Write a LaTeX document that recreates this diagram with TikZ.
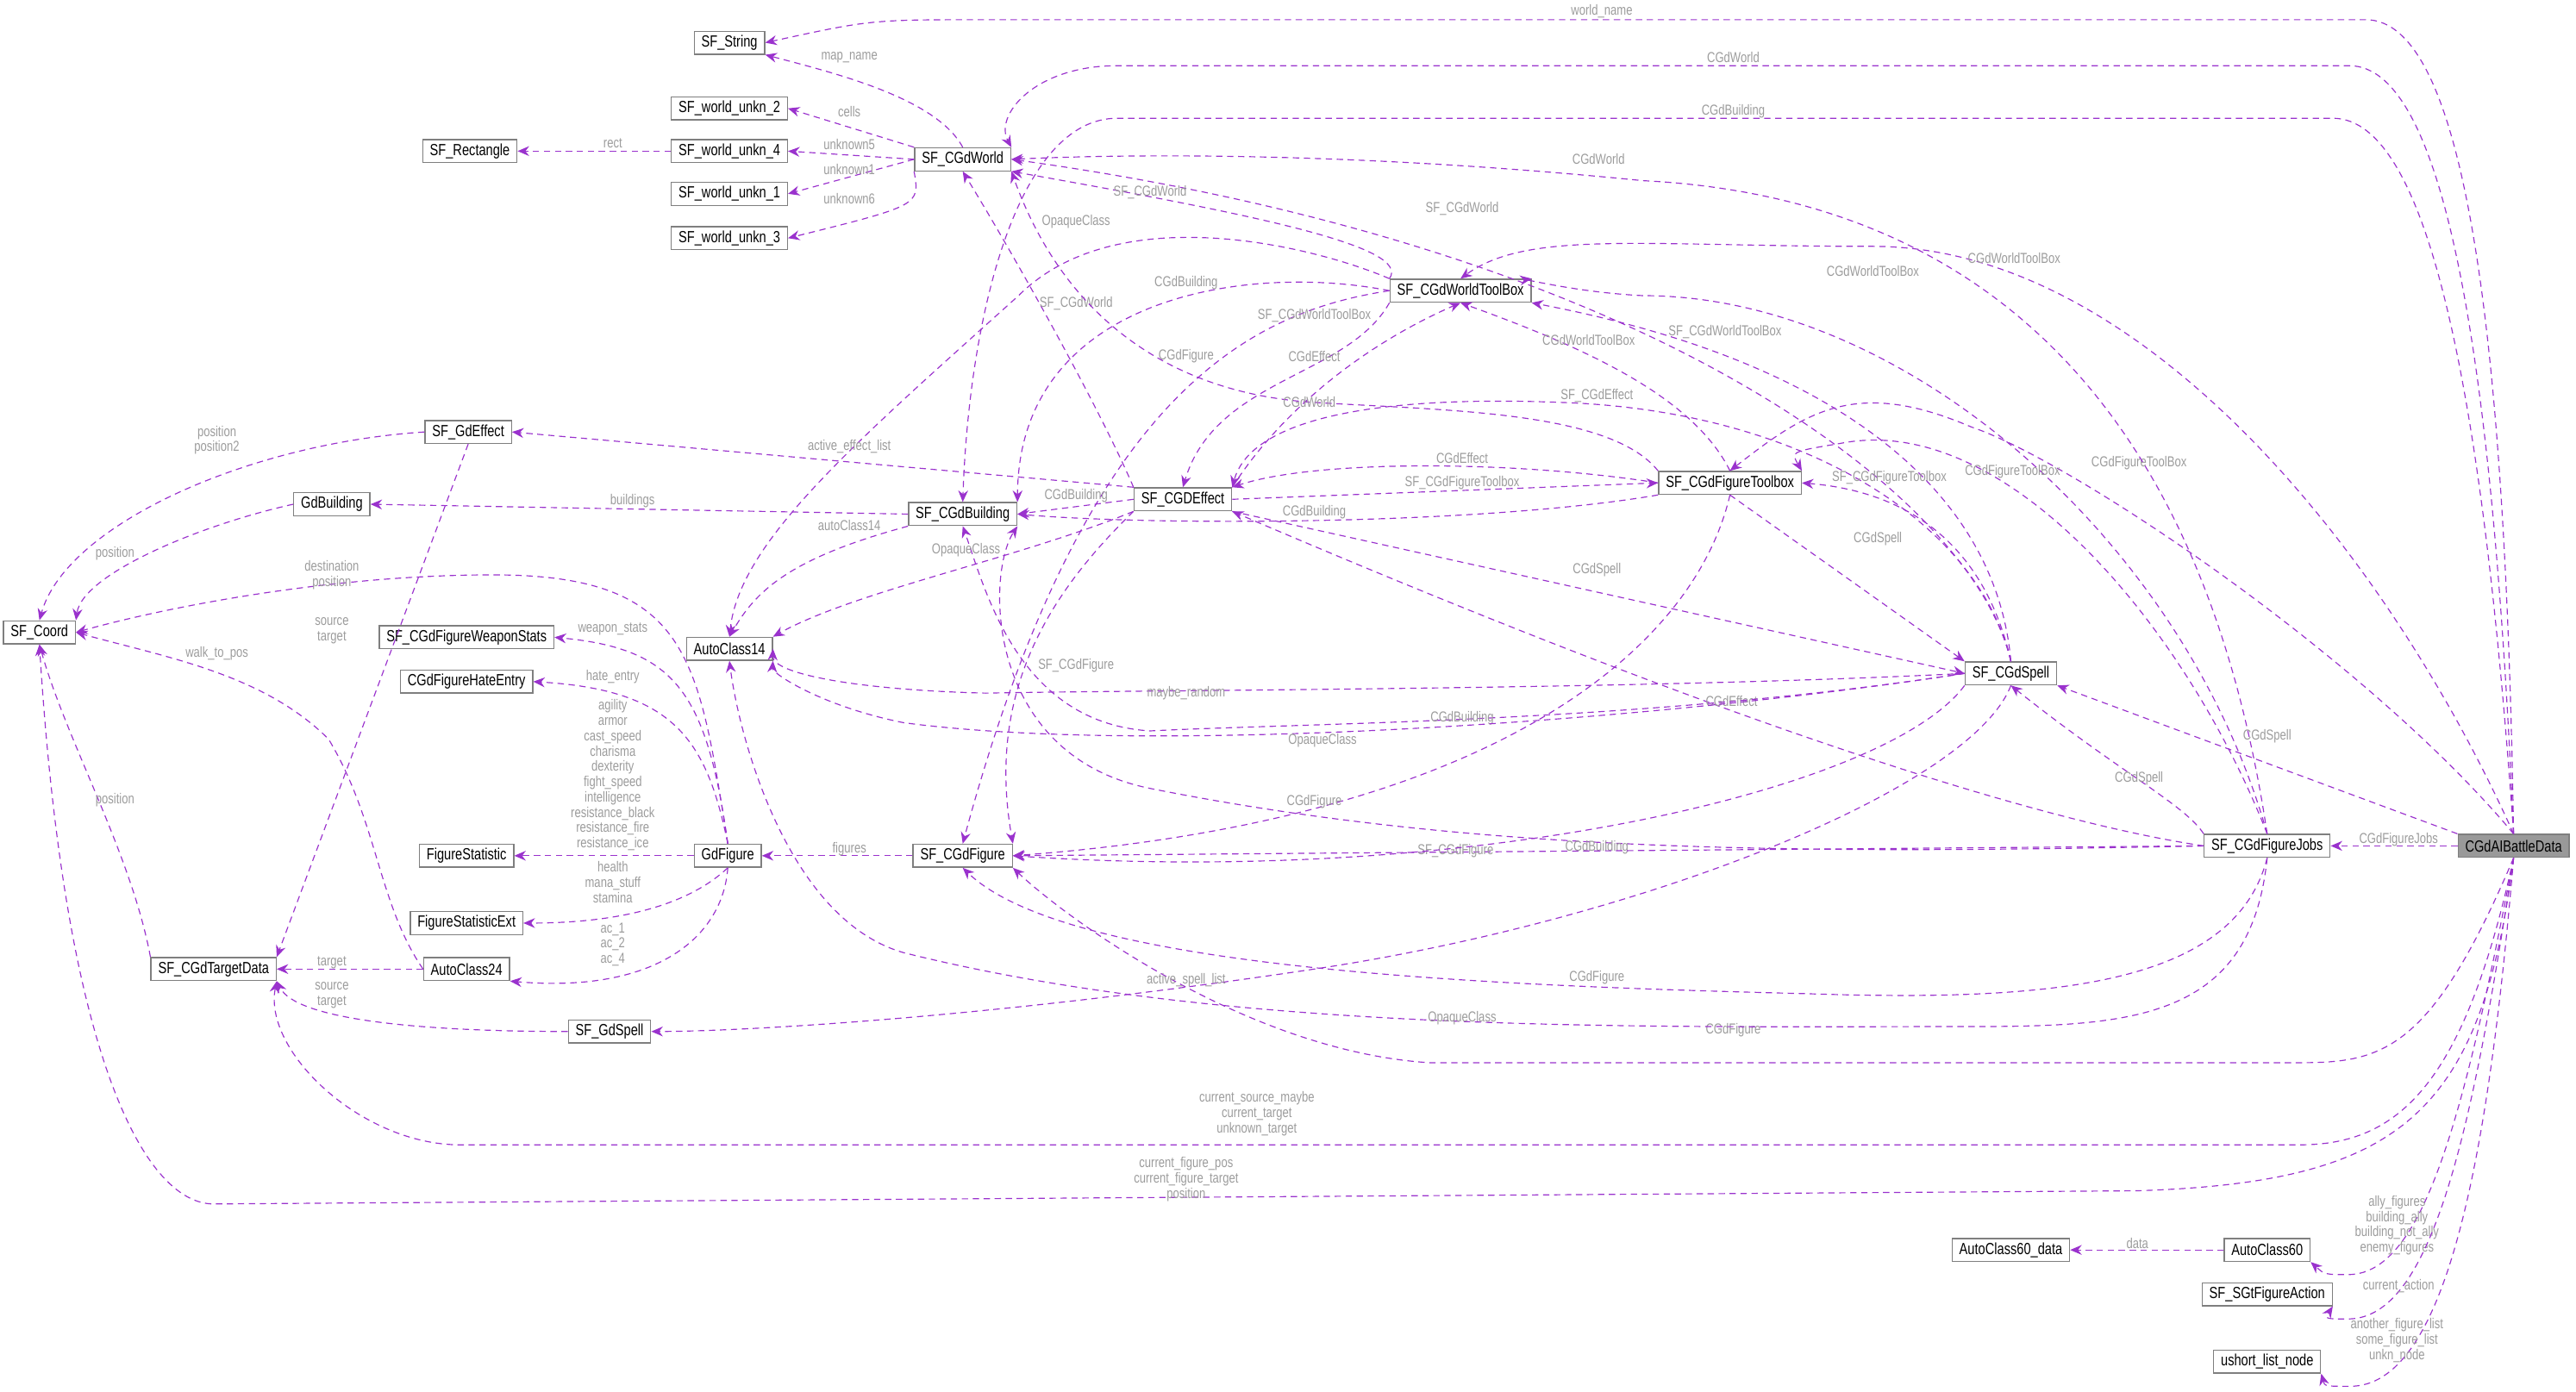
\documentclass[tikz,border=0pt]{standalone}
\usepackage{fontspec}
\setmainfont{Liberation Sans}[FakeStretch=0.78]
\usetikzlibrary{arrows.meta}

\definecolor{edgepurple}{HTML}{9A32CD}
\definecolor{lblgray}{HTML}{9C9C9C}
\definecolor{boxgray}{HTML}{7F7F7F}

\begin{document}
\begin{tikzpicture}[x=0.02cm,y=-0.02cm,
  cls/.style={draw=boxgray,fill=white,rectangle,inner xsep=2.5pt,inner ysep=0pt,minimum height=0.28cm,font=\fontsize{5.6}{6}\selectfont},
  edge/.style={draw=edgepurple,dashed,dash pattern=on 2.2pt off 1.6pt,line width=0.35pt,-{Stealth[length=4pt,width=3.4pt,fill=edgepurple]}},
  lbl/.style={text=lblgray,font=\fontsize{5}{5.3}\selectfont,align=center,inner sep=0pt}]
  \useasboundingbox (0,0) rectangle (1568,847);

  \node[cls] (str)   at (444,26)  {SF\_String};
  \node[cls] (wu2)   at (444,66)  {SF\_world\_unkn\_2};
  \node[cls] (rect)  at (286,92)  {SF\_Rectangle};
  \node[cls] (wu4)   at (444,92)  {SF\_world\_unkn\_4};
  \node[cls] (wu1)   at (444,118) {SF\_world\_unkn\_1};
  \node[cls] (wu3)   at (444,145) {SF\_world\_unkn\_3};
  \node[cls] (world) at (586,97)  {SF\_CGdWorld};
  \node[cls] (wtb)   at (889,177) {SF\_CGdWorldToolBox};
  \node[cls] (gdeff) at (285,263) {SF\_GdEffect};
  \node[cls] (gdbld) at (202,307) {GdBuilding};
  \node[cls] (bldg)  at (586,313) {SF\_CGdBuilding};
  \node[cls] (eff)   at (720,304) {SF\_CGDEffect};
  \node[cls] (ftb)   at (1053,294) {SF\_CGdFigureToolbox};
  \node[cls] (coord) at (24,385)  {SF\_Coord};
  \node[cls] (wstats) at (284,388) {SF\_CGdFigureWeaponStats};
  \node[cls] (ac14)  at (444,395) {AutoClass14};
  \node[cls] (hate)  at (284,415) {CGdFigureHateEntry};
  \node[cls] (spell) at (1224,410) {SF\_CGdSpell};
  \node[cls] (fstat) at (284,521) {FigureStatistic};
  \node[cls] (gdfig) at (443,521) {GdFigure};
  \node[cls] (fig)   at (586,521) {SF\_CGdFigure};
  \node[cls] (jobs)  at (1380,515) {SF\_CGdFigureJobs};
  \node[cls,fill=black!40] (battle) at (1530,515) {CGdAIBattleData};
  \node[cls] (fstatx) at (284,562) {FigureStatisticExt};
  \node[cls] (target) at (130,590) {SF\_CGdTargetData};
  \node[cls] (ac24)  at (284,590) {AutoClass24};
  \node[cls] (gdspell) at (371,628) {SF\_GdSpell};
  \node[cls] (ac60d) at (1224,761) {AutoClass60\_data};
  \node[cls] (ac60)  at (1380,761) {AutoClass60};
  \node[cls] (action) at (1380,788) {SF\_SGtFigureAction};
  \node[cls] (ushort) at (1380,829) {ushort\_list\_node};

  % SF_CGdWorld members
  \draw[edge] (world.north) .. controls (570,60) and (510,45) .. (str.south east);
  \node[lbl] at (517,35) {map\_name};
  \draw[edge] (world.north west) -- (wu2.east);
  \node[lbl] at (517,68) {cells};
  \draw[edge] (world.west) -- (wu4.east);
  \node[lbl] at (517,88) {unknown5};
  \draw[edge] (world.west) -- (wu1.east);
  \node[lbl] at (517,103) {unknown1};
  \draw[edge] (world.south west) .. controls (560,125) .. (wu3.east);
  \node[lbl] at (517,121) {unknown6};
  \draw[edge] (wu4) -- (rect);
  \node[lbl] at (373,87) {rect};

  % CGdAIBattleData, long loops
  \draw[edge] (battle.north) .. controls (1525,200) and (1500,12) .. (1440,12) -- (600,12) .. controls (530,12) .. (str.east);
  \node[lbl] at (975,7) {world\_name};
  \draw[edge] (battle.north) .. controls (1518,230) and (1490,40) .. (1430,40) -- (680,40) .. controls (630,40) and (605,70) .. (world.north east);
  \node[lbl] at (1055,35) {CGdWorld};
  \draw[edge] (battle.north) .. controls (1512,250) and (1480,72) .. (1420,72) -- (680,72) .. controls (620,72) and (590,190) .. (bldg.north);
  \node[lbl] at (1055,68) {CGdBuilding};
  \draw[edge] (battle.north) .. controls (1450,330) and (1300,150) .. (1140,150) .. controls (1000,150) and (930,140) .. (wtb.north);
  \node[lbl] at (1226,157) {CGdWorldToolBox};
  \draw[edge] (battle.north) .. controls (1440,400) and (1260,280) .. (1200,260) .. controls (1130,230) and (1100,250) .. (ftb.north);
  \node[lbl] at (1302,282) {CGdFigureToolBox};
  \draw[edge] (battle.north west) -- (spell.south east);
  \node[lbl] at (1380,448) {CGdSpell};
  \draw[edge] (battle) -- (jobs);
  \node[lbl] at (1460,511) {CGdFigureJobs};
  \draw[edge] (battle.south) .. controls (1480,640) and (1450,647) .. (1400,647) -- (870,647) .. controls (760,640) and (650,560) .. (fig.south east);
  \node[lbl] at (1055,627) {CGdFigure};
  \draw[edge] (battle.south) .. controls (1500,660) and (1460,697) .. (1400,697) -- (280,697) .. controls (220,697) and (160,640) .. (target.south east);
  \node[lbl] at (765,678) {current\_source\_maybe\\current\_target\\unknown\_target};
  \draw[edge] (battle.south) .. controls (1510,680) and (1460,720) .. (1300,725) -- (130,733) .. controls (90,733) and (40,650) .. (coord.south);
  \node[lbl] at (722,718) {current\_figure\_pos\\current\_figure\_target\\position};
  \draw[edge] (battle.south) .. controls (1500,680) and (1475,775) .. (1430,776) .. controls (1415,776) .. (ac60.south east);
  \node[lbl] at (1459,746) {ally\_figures\\building\_ally\\building\_not\_ally\\enemy\_figures};
  \draw[edge] (battle.south) .. controls (1505,690) and (1480,802) .. (1430,803) .. controls (1415,803) .. (action.south east);
  \node[lbl] at (1460,783) {current\_action};
  \draw[edge] (battle.south) .. controls (1515,700) and (1490,845) .. (1430,844) .. controls (1415,844) .. (ushort.south east);
  \node[lbl] at (1459,816) {another\_figure\_list\\some\_figure\_list\\unkn\_node};
  \draw[edge] (ac60) -- (ac60d);
  \node[lbl] at (1301,757) {data};

  % SF_CGdFigureJobs
  \draw[edge] (jobs.north) .. controls (1340,240) and (1200,120) .. (1000,110) .. controls (800,90) and (660,95) .. (world.east);
  \node[lbl] at (973,97) {CGdWorld};
  \draw[edge] (jobs.north) .. controls (1330,330) and (1160,180) .. (1000,180) .. controls (960,178) and (930,170) .. (wtb.north east);
  \node[lbl] at (1140,165) {CGdWorldToolBox};
  \draw[edge] (jobs.north) .. controls (1330,380) and (1220,250) .. (1120,270) .. controls (1090,275) .. (ftb.north east);
  \node[lbl] at (1225,287) {CGdFigureToolBox};
  \draw[edge] (jobs.north west) .. controls (1330,490) and (1290,470) .. (spell.south);
  \node[lbl] at (1302,474) {CGdSpell};
  \draw[edge] (jobs.west) .. controls (1240,500) and (1050,440) .. (eff.south east);
  \node[lbl] at (1054,427) {CGdEffect};
  \draw[edge] (jobs.west) .. controls (1100,520) and (900,520) .. (700,480) .. controls (600,460) and (600,350) .. (bldg.south east);
  \node[lbl] at (972,516) {CGdBuilding};
  \draw[edge] (jobs.west) -- (fig.east);
  \node[lbl] at (886,518) {SF\_CGdFigure};
  \draw[edge] (jobs.south) .. controls (1360,600) and (1250,610) .. (1100,605) .. controls (900,600) and (650,590) .. (fig.south);
  \node[lbl] at (972,595) {CGdFigure};
  \draw[edge] (jobs.south) .. controls (1370,620) and (1300,625) .. (1200,625) .. controls (1000,625) and (750,630) .. (550,580) .. controls (480,560) and (450,450) .. (ac14.south);
  \node[lbl] at (890,620) {OpaqueClass};

  % SF_CGdSpell
  \draw[edge] (spell.north) .. controls (1200,300) and (1000,150) .. (world.east);
  \node[lbl] at (890,127) {SF\_CGdWorld};
  \draw[edge] (spell.north) .. controls (1215,300) and (1120,220) .. (wtb.south east);
  \node[lbl] at (1050,202) {SF\_CGdWorldToolBox};
  \draw[edge] (spell.north) .. controls (1205,320) and (1100,250) .. (950,245) .. controls (820,240) and (760,260) .. (eff.north east);
  \node[lbl] at (972,241) {SF\_CGdEffect};
  \draw[edge] (spell.north) .. controls (1210,340) and (1170,300) .. (ftb.east);
  \node[lbl] at (1150,291) {SF\_CGdFigureToolbox};
  \draw[edge] (spell.west) .. controls (1000,440) and (800,440) .. (700,445) .. controls (620,440) and (600,360) .. (bldg.south);
  \node[lbl] at (890,437) {CGdBuilding};
  \draw[edge] (spell.west) .. controls (1000,420) and (700,420) .. (600,422) .. controls (520,420) and (470,410) .. (ac14.east);
  \node[lbl] at (722,422) {maybe\_random};
  \draw[edge] (spell.west) .. controls (1000,440) and (700,460) .. (550,440) .. controls (500,430) and (470,410) .. (ac14.south east);
  \node[lbl] at (805,451) {OpaqueClass};
  \draw[edge] (spell.south) .. controls (1200,480) and (1000,560) .. (800,590) .. controls (600,620) and (450,628) .. (gdspell.east);
  \node[lbl] at (722,597) {active\_spell\_list};
  \draw[edge] (spell.south west) .. controls (1150,480) and (900,540) .. (fig.east);

  % SF_CGdWorldToolBox
  \draw[edge] (wtb.north west) .. controls (860,150) and (760,130) .. (world.south east);
  \node[lbl] at (700,117) {SF\_CGdWorld};
  \draw[edge] (wtb.north west) .. controls (800,150) and (680,120) .. (620,180) .. controls (520,270) and (450,330) .. (ac14.north);
  \node[lbl] at (655,135) {OpaqueClass};
  \draw[edge] (wtb.west) .. controls (760,160) and (620,180) .. (bldg.north east);
  \node[lbl] at (722,172) {CGdBuilding};
  \draw[edge] (wtb.west) .. controls (760,190) and (660,240) .. (fig.north);
  \node[lbl] at (722,217) {CGdFigure};
  \draw[edge] (wtb.south west) .. controls (820,230) and (740,230) .. (eff.north);
  \node[lbl] at (800,217) {CGdEffect};

  % SF_CGDEffect
  \draw[edge] (eff.north west) .. controls (670,250) and (620,160) .. (world.south);
  \node[lbl] at (655,185) {SF\_CGdWorld};
  \draw[edge] (eff.north east) .. controls (780,250) and (830,210) .. (wtb.south);
  \node[lbl] at (800,192) {SF\_CGdWorldToolBox};
  \draw[edge] (eff.north west) -- (gdeff.east);
  \node[lbl] at (517,272) {active\_effect\_list};
  \draw[edge] (eff.west) -- (bldg.east);
  \node[lbl] at (655,302) {CGdBuilding};
  \draw[edge] (eff.east) -- (ftb.west);
  \node[lbl] at (890,294) {SF\_CGdFigureToolbox};
  \draw[edge] (eff.south east) -- (spell.west);
  \node[lbl] at (972,347) {CGdSpell};
  \draw[edge] (eff.south west) .. controls (640,360) and (600,420) .. (fig.north east);
  \node[lbl] at (655,405) {SF\_CGdFigure};
  \draw[edge] (eff.south west) .. controls (620,340) and (520,360) .. (ac14.north east);
  \node[lbl] at (588,335) {OpaqueClass};

  % SF_CGdFigureToolbox
  \draw[edge] (ftb.north west) .. controls (980,250) and (880,250) .. (800,245) .. controls (720,240) and (650,200) .. (world.south east);
  \node[lbl] at (797,245) {CGdWorld};
  \draw[edge] (ftb.north) .. controls (1030,240) and (960,210) .. (wtb.south);
  \node[lbl] at (967,207) {CGdWorldToolBox};
  \draw[edge] (ftb.west) .. controls (920,280) and (800,280) .. (eff.north east);
  \node[lbl] at (890,279) {CGdEffect};
  \draw[edge] (ftb.south west) .. controls (900,320) and (700,320) .. (bldg.east);
  \node[lbl] at (800,312) {CGdBuilding};
  \draw[edge] (ftb.south) -- (spell.north west);
  \node[lbl] at (1143,328) {CGdSpell};
  \draw[edge] (ftb.south) .. controls (1030,400) and (900,500) .. (fig.east);
  \node[lbl] at (800,488) {CGdFigure};

  % SF_CGdBuilding, SF_CGdFigure
  \draw[edge] (bldg.west) -- (gdbld.east);
  \node[lbl] at (385,305) {buildings};
  \draw[edge] (bldg.south west) .. controls (480,340) and (460,360) .. (ac14.north);
  \node[lbl] at (517,320) {autoClass14};
  \draw[edge] (fig) -- (gdfig);
  \node[lbl] at (517,517) {figures};

  % GdFigure members
  \draw[edge] (gdfig.north) .. controls (425,400) and (420,350) .. (300,350) .. controls (200,350) and (100,370) .. (coord.east);
  \node[lbl] at (202,350) {destination\\position};
  \draw[edge] (gdfig.north) .. controls (430,420) and (410,395) .. (wstats.east);
  \node[lbl] at (373,383) {weapon\_stats};
  \draw[edge] (gdfig.north) .. controls (430,450) and (410,420) .. (hate.east);
  \node[lbl] at (373,412) {hate\_entry};
  \draw[edge] (gdfig) -- (fstat);
  \node[lbl] at (373,472) {agility\\armor\\cast\_speed\\charisma\\dexterity\\fight\_speed\\intelligence\\resistance\_black\\resistance\_fire\\resistance\_ice};
  \draw[edge] (gdfig.south) .. controls (420,550) and (380,562) .. (fstatx.east);
  \node[lbl] at (373,537) {health\\mana\_stuff\\stamina};
  \draw[edge] (gdfig.south) .. controls (440,570) and (400,605) .. (ac24.south east);
  \node[lbl] at (373,575) {ac\_1\\ac\_2\\ac\_4};

  % small structures
  \draw[edge] (ac24) -- (target);
  \node[lbl] at (202,586) {target};
  \draw[edge] (ac24.west) .. controls (230,550) and (230,500) .. (200,450) .. controls (160,410) and (100,400) .. (coord.east);
  \node[lbl] at (132,398) {walk\_to\_pos};
  \draw[edge] (gdeff.west) .. controls (150,270) and (40,320) .. (coord.north);
  \node[lbl] at (132,268) {position\\position2};
  \draw[edge] (gdeff.south) -- (target.north east);
  \node[lbl] at (202,384) {source\\target};
  \draw[edge] (gdbld.west) .. controls (120,320) and (50,350) .. (coord.north east);
  \node[lbl] at (70,337) {position};
  \draw[edge] (target.north west) .. controls (80,520) and (40,450) .. (coord.south);
  \node[lbl] at (70,487) {position};
  \draw[edge] (gdspell.west) .. controls (250,628) and (180,620) .. (target.south east);
  \node[lbl] at (202,606) {source\\target};
\end{tikzpicture}
\end{document}
